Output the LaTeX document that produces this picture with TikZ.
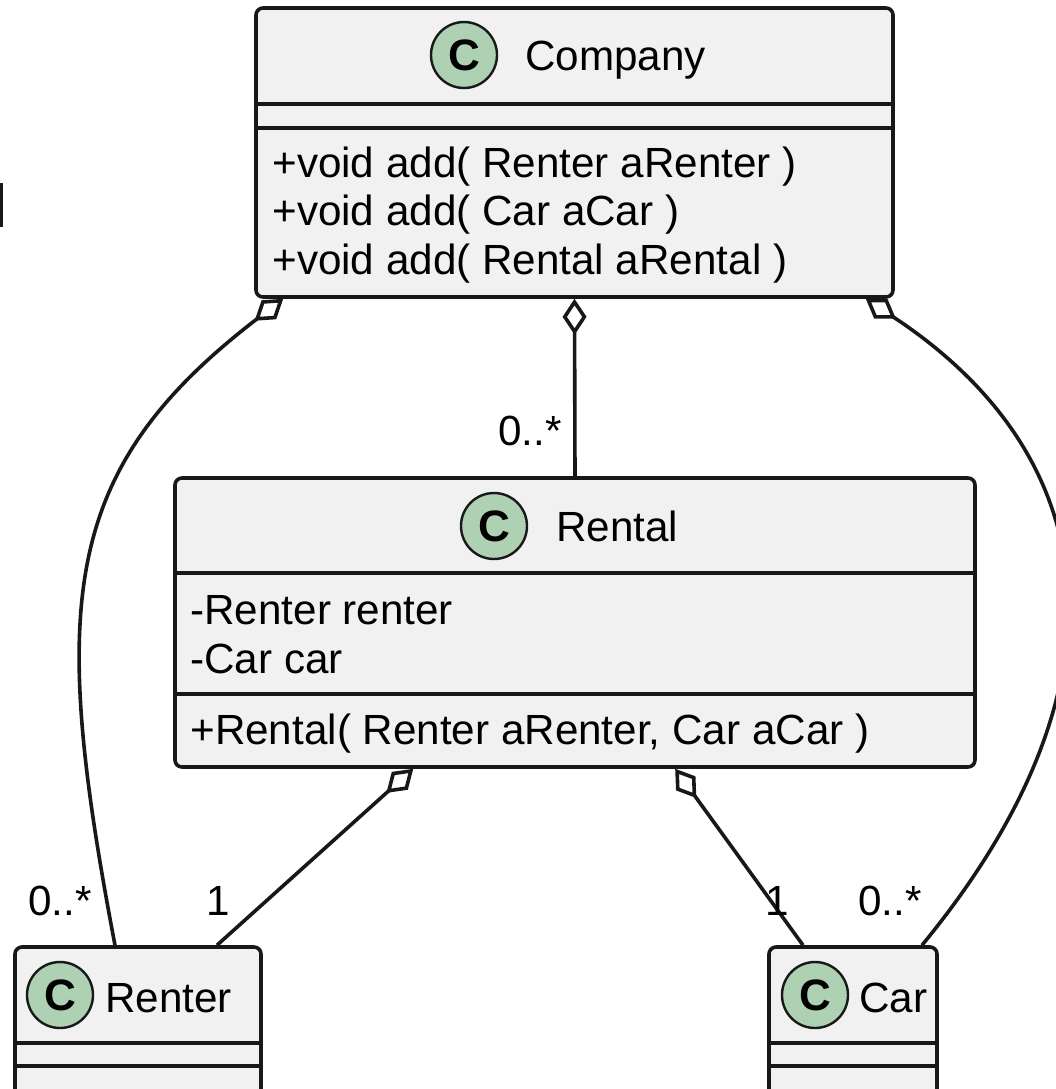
\documentclass[tikz,border=0pt]{standalone}
\usepackage{fontspec}
\setmainfont{Liberation Sans}
\usetikzlibrary{arrows.meta}

\definecolor{umlfill}{HTML}{F1F1F1}
\definecolor{umlline}{HTML}{181818}
\definecolor{umlspot}{HTML}{ADD1B2}

\def \boxLine {1.8pt}
\def \textFont {\fontsize{21.1}{24}\selectfont}

\tikzset{
  classbox/.style={draw=umlline, fill=umlfill, line width=\boxLine, rounded corners=3.5pt, inner sep=0pt},
  spot/.style={circle, draw=umlline, fill=umlspot, line width=1.2pt, minimum size=33pt, inner sep=0pt, font=\fontsize{22}{22}\selectfont\bfseries},
  member/.style={anchor=base west, inner sep=0pt, font=\textFont},
  mult/.style={anchor=base, inner sep=0pt, font=\textFont},
  divider/.style={draw=umlline, line width=\boxLine},
  aggr/.style={draw=umlline, line width=\boxLine, {Diamond[open,length=18pt,width=12pt]}-},
}

\begin{document}
\begin{tikzpicture}[x=0.5pt, y=-0.5pt]
  \useasboundingbox (0,0) rectangle (1056,1089);
  \draw[umlline, line width=1.8pt] (1,183) -- (1,227);

  % classes
  \node[classbox, minimum width=318.5pt, minimum height=144.5pt] (company) at (574.5,152.5) {};
  \node[spot] (companyspot) at (464,55) {C};
  \node[member] (companyname) at (525,70) {Company};
  \draw[divider] (256,104) -- (893,104);
  \draw[divider] (256,128) -- (893,128);
  \node[member] (addrenter) at (272,177) {+void add( Renter aRenter )};
  \node[member] (addcar) at (272,225.5) {+void add( Car aCar )};
  \node[member] (addrental) at (272,274) {+void add( Rental aRental )};

  \node[classbox, minimum width=400pt, minimum height=144.5pt] (rental) at (575,622.5) {};
  \node[spot] (rentalspot) at (494,526) {C};
  \node[member] (rentalname) at (556,541) {Rental};
  \draw[divider] (175,573) -- (975,573);
  \node[member] (renterfield) at (190,624) {-Renter renter};
  \node[member] (carfield) at (190,673) {-Car car};
  \draw[divider] (175,694) -- (975,694);
  \node[member] (rentalctor) at (190,744.5) {+Rental( Renter aRenter, Car aCar )};

  \node[classbox, minimum width=123pt, minimum height=81.5pt] (renter) at (138,1028.5) {};
  \node[spot] (renterspot) at (60,995) {C};
  \node[member] (rentername) at (105,1012) {Renter};
  \draw[divider] (15,1043) -- (261,1043);
  \draw[divider] (15,1066) -- (261,1066);

  \node[classbox, minimum width=84pt, minimum height=81.5pt] (car) at (853,1028.5) {};
  \node[spot] (carspot) at (815,995) {C};
  \node[member] (carname) at (859,1012) {Car};
  \draw[divider] (769,1043) -- (937,1043);
  \draw[divider] (769,1066) -- (937,1066);

  % aggregations
  \draw[aggr] (company.south) -- (rental.north);
  \draw[aggr] ([xshift=14.5pt]company.south west) .. controls (60,470) and (50,604) .. ([xshift=-11.5pt]renter.north);
  \draw[aggr] ([xshift=-14.5pt]company.south east) .. controls (1110,460) and (1132,690) .. ([xshift=34.5pt]car.north);
  \draw[aggr] ([xshift=120pt]rental.south west) -- ([xshift=39.5pt]renter.north);
  \draw[aggr] ([xshift=251pt]rental.south west) -- ([xshift=-25pt]car.north);

  % multiplicities
  \node[mult] (multrental) at (530,445) {0..*};
  \node[mult] (multrenters) at (60,915) {0..*};
  \node[mult] (multrenter) at (218,915) {1};
  \node[mult] (multcar) at (777,915) {1};
  \node[mult] (multcars) at (890,915) {0..*};
\end{tikzpicture}
\end{document}
